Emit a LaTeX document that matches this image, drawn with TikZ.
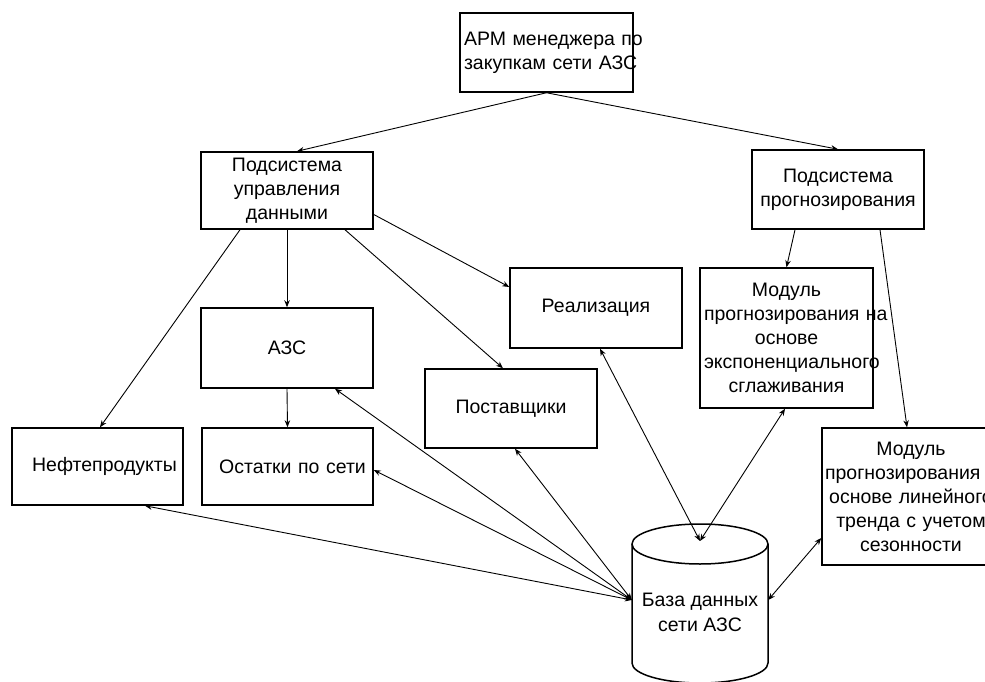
\documentclass[tikz,border=0pt]{standalone}
\usepackage{fontspec}
\setmainfont{Liberation Sans}
\usetikzlibrary{arrows.meta}
\begin{document}
\begin{tikzpicture}[x=1pt,y=-1pt,
  box/.style={draw,line width=1.5pt,inner xsep=4pt,inner ysep=0pt,align=center,
    font=\fontsize{19.5}{24}\selectfont},
  conn/.style={line width=0.9pt,-{Stealth[length=7pt,width=5.5pt]}},
  bidir/.style={line width=0.9pt,{Stealth[length=7pt,width=5.5pt]}-{Stealth[length=7pt,width=5.5pt]}},
  lbl/.style={inner sep=0pt,align=center,font=\fontsize{19.5}{25}\selectfont}]
\useasboundingbox (0,0) rectangle (985,682);
\clip (0,0) rectangle (985,682);
\fill[white] (0,0) rectangle (985,682);

\node[box,text width=165pt,minimum height=79pt] (apm) at (546.5,52.5) {АРМ~менеджера~по\\закупкам~сети~АЗС};
\node[box,text width=164pt,minimum height=77pt] (pu) at (287,190.5) {Подсистема\\управления\\данными};
\node[box,text width=164pt,minimum height=79pt] (pp) at (838,189.5) {Подсистема\\прогнозирования};
\node[box,text width=164pt,minimum height=80pt] (real) at (596,308) {Реализация};
\node[box,text width=164pt,minimum height=80pt] (azs) at (287,348) {АЗС};
\node[box,text width=165pt,minimum height=140pt] (modexp) at (786.5,338) {Модуль\\прогнозирования~на\\основе\\экспоненциального\\сглаживания};
\node[box,text width=164pt,minimum height=79pt] (post) at (511,408.5) {Поставщики};
\node[box,text width=163pt,minimum height=77pt] (neft) at (97.5,466.5) {\hspace*{14pt}Нефтепродукты};
\node[box,text width=163pt,minimum height=77pt] (ost) at (287.5,466.5) {\hspace*{10pt}Остатки~по~сети};
\node[box,text width=172pt,inner xsep=3pt,minimum height=137pt] (modlin) at (911,496.5) {Модуль\\прогнозирования~на\\основе~линейного\\тренда~с~учетом\\сезонности};

% database cylinder
\node[inner sep=0pt,minimum width=136pt,minimum height=152pt] (db) at (700,600) {};
\coordinate (dbtop) at (700,541);
\draw[line width=1.5pt] (632,544) arc[start angle=180,end angle=-180,x radius=68,y radius=-20];
\draw[line width=1.5pt] (632,544) -- (632,663) arc[start angle=180,end angle=360,x radius=68,y radius=-20] -- (768,544);
\node[lbl] (dbt) at (700,612) {База данных\\сети АЗС};

% connectors
\draw[conn] (apm.south) -- ([xshift=10pt]pu.north);
\draw[conn] (apm.south) -- (pp.north);
\draw[conn] ([xshift=-47pt]pu.south) -- ([xshift=2.5pt]neft.north);
\draw[conn] (pu.south) -- (azs.north);
\draw[conn] ([xshift=58pt]pu.south) -- ([xshift=-8pt]post.north);
\draw[conn] ([yshift=-24pt]pu.east) -- ([yshift=21pt]real.west);
\draw[conn] (azs.south) -- (ost.north);
\draw[conn] ([xshift=-43pt]pp.south) -- (modexp.north);
\draw[conn] ([xshift=42pt]pp.south) -- ([xshift=-4pt]modlin.north);

\draw[bidir] (db.west) -- ([xshift=47.5pt]neft.south);
\draw[bidir] (db.west) -- ([yshift=-3.5pt]ost.east);
\draw[bidir] (db.west) -- ([xshift=48pt]azs.south);
\draw[bidir] (db.west) -- ([xshift=4pt]post.south);
\draw[bidir] (dbtop) -- ([xshift=4pt]real.south);
\draw[bidir] (dbtop) -- ([xshift=-1.5pt]modexp.south);
\draw[bidir] (db.east) -- ([yshift=-41.5pt]modlin.west);
\end{tikzpicture}
\end{document}
